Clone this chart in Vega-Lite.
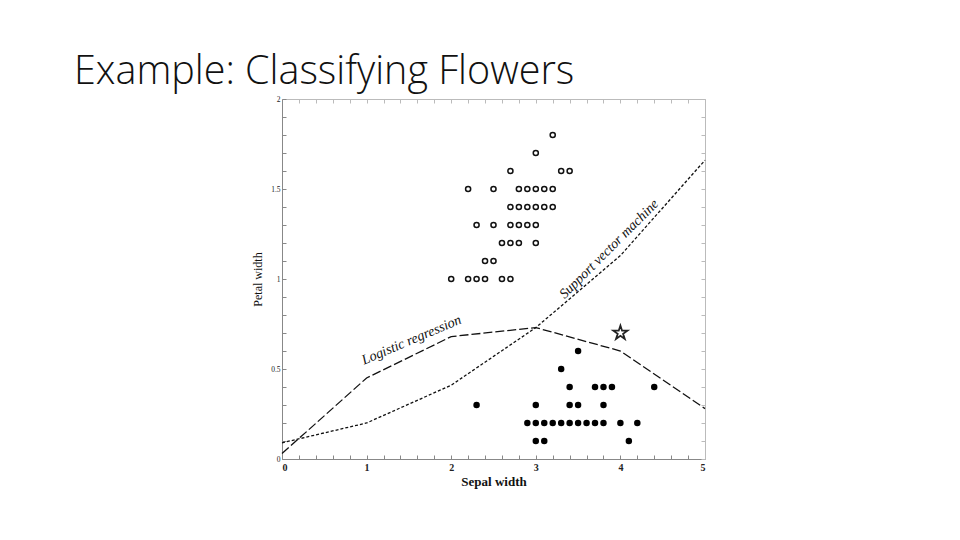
{
  "$schema": "https://vega.github.io/schema/vega-lite/v6.json",
  "width": 423,
  "height": 360,
  "autosize": "none",
  "padding": {"left": 282, "top": 99, "right": 255, "bottom": 81},
  "background": "white",
  "title": {
    "text": "Example: Classifying Flowers",
    "anchor": "start",
    "frame": "group",
    "dx": -208,
    "dy": 43,
    "offset": 15,
    "baseline": "alphabetic",
    "font": "Open Sans",
    "fontWeight": 300,
    "fontSize": 39.5,
    "color": "#111"
  },
  "config": {
    "view": {"stroke": null},
    "axis": {
      "grid": false,
      "domainColor": "#888",
      "tickColor": "#888",
      "tickSize": -4,
      "labelFont": "Liberation Serif",
      "labelFontSize": 8,
      "labelColor": "#222",
      "titleFont": "Liberation Serif",
      "titleColor": "#111"
    }
  },
  "datasets": {
    "flowers": [
      {"sepal": 3.2, "petal": 1.8, "cls": "open"},
      {"sepal": 3.0, "petal": 1.7, "cls": "open"},
      {"sepal": 2.7, "petal": 1.6, "cls": "open"},
      {"sepal": 3.3, "petal": 1.6, "cls": "open"},
      {"sepal": 3.4, "petal": 1.6, "cls": "open"},
      {"sepal": 2.2, "petal": 1.5, "cls": "open"},
      {"sepal": 2.5, "petal": 1.5, "cls": "open"},
      {"sepal": 2.8, "petal": 1.5, "cls": "open"},
      {"sepal": 2.9, "petal": 1.5, "cls": "open"},
      {"sepal": 3.0, "petal": 1.5, "cls": "open"},
      {"sepal": 3.1, "petal": 1.5, "cls": "open"},
      {"sepal": 3.2, "petal": 1.5, "cls": "open"},
      {"sepal": 2.7, "petal": 1.4, "cls": "open"},
      {"sepal": 2.8, "petal": 1.4, "cls": "open"},
      {"sepal": 2.9, "petal": 1.4, "cls": "open"},
      {"sepal": 3.0, "petal": 1.4, "cls": "open"},
      {"sepal": 3.1, "petal": 1.4, "cls": "open"},
      {"sepal": 3.2, "petal": 1.4, "cls": "open"},
      {"sepal": 2.3, "petal": 1.3, "cls": "open"},
      {"sepal": 2.5, "petal": 1.3, "cls": "open"},
      {"sepal": 2.7, "petal": 1.3, "cls": "open"},
      {"sepal": 2.8, "petal": 1.3, "cls": "open"},
      {"sepal": 2.9, "petal": 1.3, "cls": "open"},
      {"sepal": 3.0, "petal": 1.3, "cls": "open"},
      {"sepal": 2.6, "petal": 1.2, "cls": "open"},
      {"sepal": 2.7, "petal": 1.2, "cls": "open"},
      {"sepal": 2.8, "petal": 1.2, "cls": "open"},
      {"sepal": 3.0, "petal": 1.2, "cls": "open"},
      {"sepal": 2.4, "petal": 1.1, "cls": "open"},
      {"sepal": 2.5, "petal": 1.1, "cls": "open"},
      {"sepal": 2.0, "petal": 1.0, "cls": "open"},
      {"sepal": 2.2, "petal": 1.0, "cls": "open"},
      {"sepal": 2.3, "petal": 1.0, "cls": "open"},
      {"sepal": 2.4, "petal": 1.0, "cls": "open"},
      {"sepal": 2.6, "petal": 1.0, "cls": "open"},
      {"sepal": 2.7, "petal": 1.0, "cls": "open"},
      {"sepal": 3.5, "petal": 0.6, "cls": "filled"},
      {"sepal": 3.3, "petal": 0.5, "cls": "filled"},
      {"sepal": 3.4, "petal": 0.4, "cls": "filled"},
      {"sepal": 3.7, "petal": 0.4, "cls": "filled"},
      {"sepal": 3.8, "petal": 0.4, "cls": "filled"},
      {"sepal": 3.9, "petal": 0.4, "cls": "filled"},
      {"sepal": 4.4, "petal": 0.4, "cls": "filled"},
      {"sepal": 2.3, "petal": 0.3, "cls": "filled"},
      {"sepal": 3.0, "petal": 0.3, "cls": "filled"},
      {"sepal": 3.4, "petal": 0.3, "cls": "filled"},
      {"sepal": 3.5, "petal": 0.3, "cls": "filled"},
      {"sepal": 3.8, "petal": 0.3, "cls": "filled"},
      {"sepal": 2.9, "petal": 0.2, "cls": "filled"},
      {"sepal": 3.0, "petal": 0.2, "cls": "filled"},
      {"sepal": 3.1, "petal": 0.2, "cls": "filled"},
      {"sepal": 3.2, "petal": 0.2, "cls": "filled"},
      {"sepal": 3.3, "petal": 0.2, "cls": "filled"},
      {"sepal": 3.4, "petal": 0.2, "cls": "filled"},
      {"sepal": 3.5, "petal": 0.2, "cls": "filled"},
      {"sepal": 3.6, "petal": 0.2, "cls": "filled"},
      {"sepal": 3.7, "petal": 0.2, "cls": "filled"},
      {"sepal": 3.8, "petal": 0.2, "cls": "filled"},
      {"sepal": 4.0, "petal": 0.2, "cls": "filled"},
      {"sepal": 4.2, "petal": 0.2, "cls": "filled"},
      {"sepal": 3.0, "petal": 0.1, "cls": "filled"},
      {"sepal": 3.1, "petal": 0.1, "cls": "filled"},
      {"sepal": 4.1, "petal": 0.1, "cls": "filled"}
    ],
    "boundaries": [
      {"sepal": 0, "petal": 0.03, "method": "Logistic regression"},
      {"sepal": 1, "petal": 0.45, "method": "Logistic regression"},
      {"sepal": 2, "petal": 0.68, "method": "Logistic regression"},
      {"sepal": 3, "petal": 0.73, "method": "Logistic regression"},
      {"sepal": 4, "petal": 0.6, "method": "Logistic regression"},
      {"sepal": 5, "petal": 0.28, "method": "Logistic regression"},
      {"sepal": 0, "petal": 0.09, "method": "Support vector machine"},
      {"sepal": 1, "petal": 0.2, "method": "Support vector machine"},
      {"sepal": 2, "petal": 0.41, "method": "Support vector machine"},
      {"sepal": 3, "petal": 0.73, "method": "Support vector machine"},
      {"sepal": 4, "petal": 1.13, "method": "Support vector machine"},
      {"sepal": 5, "petal": 1.66, "method": "Support vector machine"}
    ],
    "query": [
      {"sepal": 4.0, "petal": 0.7}
    ],
    "labels": [
      {"sepal": 1.55, "petal": 0.64, "label": "Logistic regression"},
      {"sepal": 3.9, "petal": 1.15, "label": "Support vector machine"}
    ]
  },
  "layer": [
    {
      "data": {"name": "boundaries"},
      "transform": [{"filter": "datum.method === 'Logistic regression'"}],
      "mark": {"type": "line", "color": "#111", "strokeWidth": 1.3, "strokeDash": [9, 3]},
      "encoding": {
        "x": {
          "field": "sepal", "type": "quantitative",
          "scale": {"domain": [0, 5], "nice": false},
          "axis": {
            "orient": "bottom",
            "values": [0, 0.2, 0.4, 0.6, 0.8, 1, 1.2, 1.4, 1.6, 1.8, 2, 2.2, 2.4, 2.6, 2.8, 3, 3.2, 3.4, 3.6, 3.8, 4, 4.2, 4.4, 4.6, 4.8, 5],
            "labelExpr": "datum.value % 1 === 0 ? toString(datum.value) : ''",
            "labelFontSize": 10,
            "labelFontWeight": "bold",
            "labelPadding": 7,
            "title": "Sepal width",
            "titleFontWeight": "bold",
            "titleFontSize": 13,
            "titlePadding": 3
          }
        },
        "y": {
          "field": "petal", "type": "quantitative",
          "scale": {"domain": [0, 2], "nice": false},
          "axis": {
            "orient": "left",
            "values": [0, 0.1, 0.2, 0.3, 0.4, 0.5, 0.6, 0.7, 0.8, 0.9, 1, 1.1, 1.2, 1.3, 1.4, 1.5, 1.6, 1.7, 1.8, 1.9, 2],
            "labelExpr": "(datum.value === 0 || datum.value === 0.5 || datum.value === 1 || datum.value === 1.5 || datum.value === 2) ? toString(datum.value) : ''",
            "labelFontSize": 7.5,
            "labelPadding": 6,
            "title": "Petal width",
            "titleFontWeight": 400,
            "titleFontSize": 12,
            "titlePadding": 6
          }
        }
      }
    },
    {
      "data": {"name": "boundaries"},
      "transform": [{"filter": "datum.method === 'Support vector machine'"}],
      "mark": {"type": "line", "color": "#111", "strokeWidth": 1.3, "strokeDash": [3, 2]},
      "encoding": {
        "x": {
          "field": "sepal", "type": "quantitative",
          "scale": {"domain": [0, 5], "nice": false},
          "axis": {
            "orient": "top",
            "values": [0, 0.2, 0.4, 0.6, 0.8, 1, 1.2, 1.4, 1.6, 1.8, 2, 2.2, 2.4, 2.6, 2.8, 3, 3.2, 3.4, 3.6, 3.8, 4, 4.2, 4.4, 4.6, 4.8, 5],
            "labels": false,
            "title": null,
            "domainColor": "#bbb",
            "tickColor": "#bbb"
          }
        },
        "y": {
          "field": "petal", "type": "quantitative",
          "scale": {"domain": [0, 2], "nice": false},
          "axis": {
            "orient": "right",
            "values": [0, 0.1, 0.2, 0.3, 0.4, 0.5, 0.6, 0.7, 0.8, 0.9, 1, 1.1, 1.2, 1.3, 1.4, 1.5, 1.6, 1.7, 1.8, 1.9, 2],
            "labels": false,
            "title": null,
            "domainColor": "#bbb",
            "tickColor": "#bbb"
          }
        }
      }
    },
    {
      "data": {"name": "flowers"},
      "transform": [{"filter": "datum.cls === 'open'"}],
      "mark": {"type": "point", "shape": "circle", "filled": false, "color": "#111", "strokeWidth": 1.5, "size": 26, "opacity": 1},
      "encoding": {
        "x": {"field": "sepal", "type": "quantitative", "axis": null},
        "y": {"field": "petal", "type": "quantitative", "axis": null}
      }
    },
    {
      "data": {"name": "flowers"},
      "transform": [{"filter": "datum.cls === 'filled'"}],
      "mark": {"type": "point", "shape": "circle", "filled": true, "color": "#000", "size": 42, "opacity": 1},
      "encoding": {
        "x": {"field": "sepal", "type": "quantitative", "axis": null},
        "y": {"field": "petal", "type": "quantitative", "axis": null}
      }
    },
    {
      "data": {"name": "query"},
      "mark": {
        "type": "point",
        "shape": "M0,-1L0.2245,-0.309L0.951,-0.309L0.363,0.118L0.588,0.809L0,0.382L-0.588,0.809L-0.363,0.118L-0.951,-0.309L-0.2245,-0.309Z",
        "filled": true,
        "fill": "white",
        "stroke": "#222",
        "strokeWidth": 1.8,
        "size": 220,
        "opacity": 1
      },
      "encoding": {
        "x": {"field": "sepal", "type": "quantitative", "axis": null},
        "y": {"field": "petal", "type": "quantitative", "axis": null}
      }
    },
    {
      "data": {"name": "labels"},
      "transform": [{"filter": "datum.label === 'Logistic regression'"}],
      "mark": {"type": "text", "angle": 337, "font": "Liberation Serif", "fontStyle": "italic", "fontSize": 14, "align": "center", "baseline": "alphabetic", "color": "#111"},
      "encoding": {
        "x": {"field": "sepal", "type": "quantitative", "axis": null},
        "y": {"field": "petal", "type": "quantitative", "axis": null},
        "text": {"field": "label"}
      }
    },
    {
      "data": {"name": "labels"},
      "transform": [{"filter": "datum.label === 'Support vector machine'"}],
      "mark": {"type": "text", "angle": 315, "font": "Liberation Serif", "fontStyle": "italic", "fontSize": 14, "align": "center", "baseline": "alphabetic", "color": "#111"},
      "encoding": {
        "x": {"field": "sepal", "type": "quantitative", "axis": null},
        "y": {"field": "petal", "type": "quantitative", "axis": null},
        "text": {"field": "label"}
      }
    }
  ],
  "resolve": {"axis": {"x": "independent", "y": "independent"}}
}
